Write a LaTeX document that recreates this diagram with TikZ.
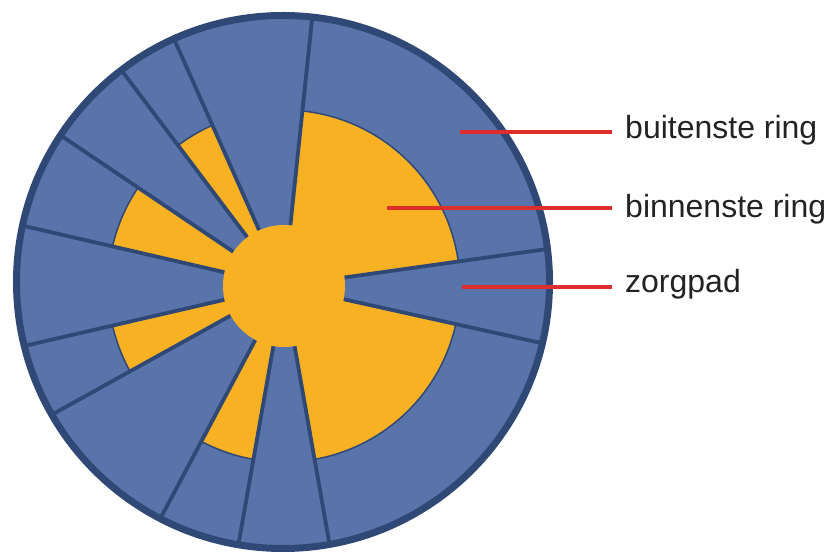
\documentclass[tikz,border=0pt]{standalone}
\usepackage{fontspec}
\setmainfont{Liberation Sans}
\usetikzlibrary{calc}
\definecolor{bluef}{RGB}{88,116,170}
\definecolor{darkb}{RGB}{47,72,118}
\definecolor{orng}{RGB}{249,177,36}
\definecolor{redl}{RGB}{222,45,45}
\definecolor{textc}{RGB}{35,35,35}
\begin{document}
\begin{tikzpicture}[x=1pt,y=1pt,
  spoke/.style={draw=darkb, line width=3.8pt},
  arcline/.style={draw=darkb, line width=1.5pt},
  redline/.style={draw=redl, line width=4pt},
  lbl/.style={text=textc, font=\fontsize{32}{37}\selectfont, inner sep=0pt}]
\useasboundingbox (0,0) rectangle (827,554);
\coordinate (O) at (283,272);
\coordinate (C) at (284,268);
% blue disk
\fill[bluef] (O) circle (267);
% orange wedges
\foreach \a/\b in {8/84, 114/127, 146/167, 193/209, 242/260, 280/347.5} {
  \fill[orng] (C) -- ([shift={(\a:176)}]C) arc[start angle=\a, end angle=\b, radius=176] -- cycle;
  \draw[arcline] ([shift={(\a:176)}]C) arc[start angle=\a, end angle=\b, radius=176];
}
% spokes
\begin{scope}
  \clip (O) circle (267);
  \foreach \a in {8,84,114,127,146,167,193,209,242,260,280,347.5}
    \draw[spoke] ([shift={(\a:61)}]C) -- ([shift={(\a:300)}]C);
\end{scope}
% centre
\fill[orng] (C) circle (61);
% outer border
\draw[darkb, line width=7pt] (O) circle (266.5);
% labels
\coordinate (p1) at (460,421.5);
\coordinate (p2) at (387,346);
\coordinate (p3) at (462,267);
\node[lbl, anchor=base west] (t1) at (625,415) {buitenste ring};
\node[lbl, anchor=base west] (t2) at (625,336) {binnenste ring};
\node[lbl, anchor=base west] (t3) at (625,261) {zorgpad};
\draw[redline] (p1) -- ($(t1.west |- p1)+(-13,0)$);
\draw[redline] (p2) -- ($(t2.west |- p2)+(-13,0)$);
\draw[redline] (p3) -- ($(t3.west |- p3)+(-13,0)$);
\end{tikzpicture}
\end{document}
